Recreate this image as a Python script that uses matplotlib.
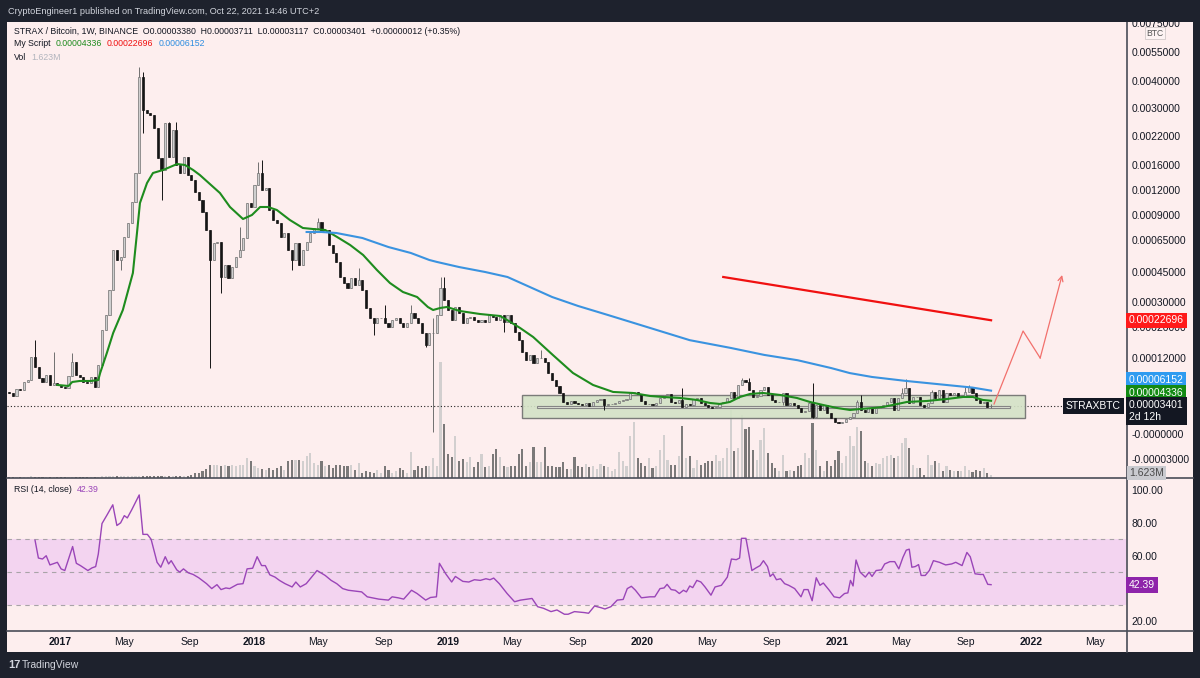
import numpy as np
import pandas as pd
import matplotlib
matplotlib.use("Agg")
import matplotlib.pyplot as plt
import matplotlib.dates as mdates
from matplotlib.patches import Rectangle
from matplotlib.lines import Line2D

plt.rcParams['font.family'] = ['Liberation Sans', 'DejaVu Sans']

# ---- data (prices in satoshi, 1e-8 BTC) ----
first_week = "2016-09-26"
closes = [5735, 5198, 6451, 6272, 7704, 8062, 12258, 10389, 8420, 7704,
          8957, 7167, 7525, 7167, 6809, 6630, 8778, 11284, 8957, 8599,
          7704, 7525, 8599, 6809, 10747, 19226, 24800, 36000, 58750, 52500,
          54375, 68000, 82000, 105600, 147200, 421000, 294300, 285700, 280000, 242900,
          174500, 152000, 257100, 176550, 237100, 160000, 147200, 176550, 144000, 136000,
          117600, 108000, 93600, 75000, 52500, 63125, 63750, 42500, 49375, 42000,
          48125, 54375, 58750, 67000, 104400, 99600, 128000, 147200, 120000, 123200,
          96000, 85000, 82000, 68000, 72000, 58750, 52500, 63125, 49375, 58750,
          63750, 72000, 77000, 83000, 73000, 75000, 61875, 56875, 51250, 42500,
          39500, 37000, 42000, 38500, 41000, 36000, 27600, 23600, 21600, 23600,
          23600, 21600, 20000, 22800, 23600, 21600, 20000, 21600, 25600, 23600,
          21600, 18452, 15356, 18452, 18452, 24800, 37000, 31000, 26800, 22800,
          28000, 25600, 21600, 23600, 24000, 22800, 22000, 22800, 22000, 24800,
          24000, 22800, 24800, 22000, 24800, 21600, 18710, 16646, 13550, 11642,
          12774, 11105, 12000, 12000, 11284, 9315, 8062, 6988, 5735, 4124,
          3766, 4303, 3945, 3766, 3587, 3945, 3401, 4124, 4482, 4661,
          3587, 3766, 3766, 3945, 4303, 4482, 4661, 5735, 5914, 5556,
          4303, 3766, 3766, 3587, 3945, 4840, 5377, 5556, 4124, 3945,
          4482, 3280, 3766, 3587, 4661, 4840, 3945, 3587, 3280, 3158,
          3280, 3945, 4124, 4840, 5914, 4840, 7167, 8062, 7704, 6272,
          5019, 5198, 6272, 6809, 5377, 4482, 4124, 4124, 5735, 3587,
          3945, 3587, 3158, 2672, 2794, 3945, 2066, 3587, 2915, 3587,
          2551, 1944, 1458, 1337, 1458, 1823, 2066, 2551, 4124, 2915,
          2672, 3158, 2551, 3158, 3280, 3587, 4124, 4840, 2915, 4840,
          5735, 6630, 3945, 5019, 5019, 3587, 3280, 3945, 5914, 4840,
          6272, 4124, 5735, 5377, 5735, 5019, 5198, 5914, 6809, 5735,
          4482, 3945, 4124, 3280, 3401]
first_open = 5900
last_open = 3380
high_wicks = {7: 16646, 12: 13550, 17: 13292, 35: 472000, 36: 446000, 43: 260000,
              45: 260000, 62: 78000, 67: 166200, 68: 170300, 83: 87000, 94: 47500,
              101: 28800, 108: 28800, 114: 23600, 116: 42500, 117: 42500, 143: 14066,
              181: 6630, 197: 8420, 199: 8420, 216: 7525, 228: 4482, 229: 5377,
              240: 6630, 241: 8241, 248: 6272, 257: 6809, 258: 7167, 264: 3711}
low_wicks = {30: 46250, 36: 228600, 41: 108000, 54: 10210, 57: 34500, 76: 46250,
             98: 17936, 112: 14840, 114: 243, 133: 18710, 160: 2915, 208: 3587,
             216: 1944, 264: 3117}

# volume in millions
volume = [0.6, 0.5, 0.6, 0.5, 0.6, 0.6, 0.8, 0.7, 0.6, 0.5,
          0.6, 0.5, 0.6, 0.5, 0.5, 0.5, 0.6, 0.7, 0.6, 0.5,
          0.5, 0.5, 0.6, 0.5, 0.6, 0.8, 0.8, 0.9, 1.0, 0.9,
          0.8, 0.9, 0.9, 1.0, 1.0, 1.2, 1.1, 1.0, 0.9, 0.9,
          0.8, 0.8, 0.9, 0.8, 0.8, 0.8, 0.8, 0.9, 1.0,
          1.5, 2.5, 2.5, 3.5, 4.5, 6.5, 6.5, 6.5, 6, 6.5,
          6, 6.5, 6, 6.5, 6.5, 10, 8.5, 6, 5, 4.5,
          4, 5, 4, 5, 6, 4, 8.5, 9, 9, 9,
          8.5, 11, 12.5, 7.5, 6.5, 8.5, 6, 6.5, 5, 6.5,
          6.5, 6, 6, 6.5, 4, 7.5, 2.5, 3.5, 3, 2.5,
          4, 2.5, 6, 4, 2.5, 3.5, 5, 4, 2.5, 13,
          4, 6, 5, 6, 6, 10, 6, 58, 27, 12,
          10.5, 21, 8.5, 9.5, 8, 10.5, 5.5, 8, 12, 5.5,
          6, 12, 14.5, 10.5, 6, 5.5, 6, 6, 12, 14.5,
          6, 8, 15.5, 8, 8, 15.5, 6, 6, 5.5, 5.5,
          8, 4.5, 4.5, 10.5, 6, 5.5, 7, 5.5, 6, 4.5,
          7, 6, 5.5, 3.5, 4.5, 13, 8.5, 6, 21, 28,
          10, 7.5, 6, 10, 5, 6, 14, 21.5, 9, 6.5,
          6.5, 11, 26, 10, 11, 5, 9, 6.5, 7.5, 8.5,
          8.5, 11.5, 8.5, 10, 15, 34, 13.5, 15, 31.5, 24.5,
          25.5, 14, 9, 19, 25, 12.5, 7.5, 5, 3.5, 11.5,
          3.5, 4, 3.5, 6, 6.5, 12.5, 10, 27.5, 14, 6,
          3.5, 8.5, 6, 9, 13.5, 7.5, 11, 21, 16, 25.5,
          23.5, 8.5, 7.5, 6, 7.5, 7, 10, 11, 11.5, 10,
          11, 17.5, 20, 15, 6.5, 5, 5, 1.5, 11.5, 6.5,
          8.5, 7.5, 3.5, 6, 4, 3.5, 3.5, 3.5, 6, 4,
          3, 4, 3.5, 5, 2.5, 1.623]

# "My Script" lines (week index, satoshi)
green_idx = [13, 16, 17, 19, 22, 24, 24.5, 26.3, 28, 30.6, 33.3, 34.4, 35.2, 37.1, 38.7,
             41.4, 43.3, 45.2, 47.3, 49.5, 51.3, 54, 56.7, 59.4, 62.9, 65.3, 67.5, 69.6,
             72, 75.5, 79, 81.7, 85, 88.2, 91.7, 95.2, 98.9, 102.4, 105.9, 109.7, 112.6,
             114, 115.9, 117.7, 121.2, 126.6, 132, 133.9, 137.4, 140.9, 146.2, 151.6, 157,
             162.4, 167.7, 172.3, 175.8, 180.4, 184.9, 188.4, 191.1, 193.8, 196.5, 199.2,
             202.7, 207.3, 211.8, 215.3, 218.8, 222.6, 226.1, 228.8, 232.3, 234.9, 237.6,
             241.4, 246.8, 252.2, 256.5, 259.1, 261.8, 264]
green_val = [7167, 6988, 7704, 7883, 7883, 8062, 9315, 13292, 18452, 26800, 44500, 72000,
             104400, 131200, 147200, 152000, 156800, 162070, 160000, 152000, 144000, 129600,
             116400, 99600, 86000, 90000, 99600, 99600, 96000, 85000, 77000, 76000, 75000,
             68000, 61875, 55625, 46250, 39500, 35000, 32500, 28000, 26800, 27600, 28000,
             26400, 25200, 24400, 22800, 19742, 17420, 12774, 9315, 7167, 5914, 5735, 5198,
             5019, 4840, 4482, 3945, 3766, 4124, 5019, 5556, 5735, 5377, 4840, 4124, 3587,
             3158, 2915, 3037, 3158, 3280, 3587, 4124, 4303, 4661, 5019, 5019, 4482, 4336]
blue_idx = [80, 84, 88, 95, 102, 108, 113, 115, 121, 128, 134, 140, 146, 153, 161, 168,
            183, 194, 203, 212, 221, 226, 232, 241, 250, 259, 264]
blue_val = [73000, 73000, 72000, 67000, 60600, 56900, 52500, 51300, 48100, 45000, 42500,
            37500, 32500, 28400, 24800, 21600, 16600, 14600, 12800, 11600, 10200, 9300,
            8600, 7900, 7300, 6700, 6152]
red_idx = [192, 264]
red_val = [42500, 22696]

# drawings
box_idx = [138, 273]
box_val = [1944, 5377]
inner_idx = [142, 269]
inner_val = [3098, 3461]
proj_idx = [264.8, 272.6, 277.2, 283.1]
proj_val = [3766, 18968, 12000, 43500]

# RSI (14, close)
rsi_idx = [7, 7.9, 9, 10, 11, 13, 14, 15, 17.1, 18.1, 19.2, 21.2, 22.3, 23.3, 24, 25,
           26.4, 27.9, 29, 30, 31, 31.8, 33, 35, 36, 37.2, 38.2, 39.8, 40.8, 42, 42.9,
           43.6, 45.1, 45.9, 46.9, 48.2, 49.5, 51, 53.1, 54.5, 55.9, 57, 58.3, 59.3,
           61.4, 62.9, 64, 65.5, 66.7, 67.9, 68.9, 70.1, 71.5, 72.7, 74.2, 76.1, 77.1,
           78.3, 79.9, 82.8, 85, 86.6, 88.1, 89.7, 91.2, 94.8, 96.3, 99.4, 102, 103,
           104.6, 106.1, 108.2, 109.7, 112, 113.3, 114.9, 115.7, 117.4, 119, 120, 122,
           123.6, 125.1, 126.7, 128.2, 129.3, 130.3, 131.8, 133.9, 135.9, 137.5, 140.6,
           142.1, 143.7, 145.7, 147.3, 149.3, 150.3, 152, 154.7, 155.8, 157.4, 159.1,
           160.2, 161.8, 163.5, 165.1, 166.2, 167.3, 168.4, 170, 172.3, 173.6, 175,
           176.1, 176.9, 178, 179.1, 180.2, 181.3, 182.1, 183, 183.8, 184.9, 186, 187.1,
           188.7, 189.8, 191.5, 193.1, 194.2, 195.5, 196.4, 196.9, 198.1, 199.7, 200.8,
           201.9, 202.8, 203.9, 204.6, 205.4, 206.3, 207.4, 208.5, 209.6, 211.2, 212.9,
           213.7, 214.8, 215.9, 217, 218, 218.9, 220.5, 221.8, 223.3, 224.6, 225.5,
           226.2, 226.9, 227.7, 228.8, 230.2, 231.2, 232, 233.1, 234.5, 235.4, 236.8,
           238.1, 239.2, 240.3, 241.2, 242, 242.7, 243.6, 244.5, 245.2, 246.3, 247.4,
           248.5, 250.1, 251.8, 253.4, 254.5, 256.2, 257.5, 258.4, 259.7, 261.1, 261.9,
           263.1, 264]
rsi_val = [69.4, 58.6, 58, 60, 54.4, 56, 52, 51, 65.6, 55.4, 54, 51, 52.6, 53.4, 61, 79.6,
           85, 91, 78.4, 80, 84.4, 83, 88, 97, 73, 73, 70, 56, 53, 59.4, 55,
           57, 51.4, 50, 52, 49.6, 48.6, 46.6, 43, 40, 42.4, 39.4, 40.4, 40,
           42.6, 43, 52, 52.4, 59.4, 54, 54, 48.4, 47, 45, 43, 41, 44,
           41, 43, 51, 48, 45, 43, 40, 39, 38, 35, 33.6, 33, 35,
           34.4, 33.6, 39, 37, 33, 34.6, 35, 55.4, 49, 44, 47.4, 44.4,
           44, 45.4, 45, 46, 45.4, 46.4, 43, 37, 32, 33, 34,
           29, 28, 26, 27, 24.4, 24.4, 26, 25.4, 25, 29.4, 28.4,
           27.6, 29, 33, 33.4, 40, 41.4, 39, 34.4, 35, 35, 40,
           40.4, 42.6, 39.4, 39, 37, 39, 38, 41.6, 40.6, 45, 44, 41,
           36, 41, 42, 47, 58, 57.6, 58.6, 70.6, 70.6, 51, 52.6,
           54, 57, 53.4, 47.4, 49, 45.4, 46, 43, 42, 40, 35,
           39.4, 39.4, 32.6, 46.6, 42, 43.4, 39, 35, 34.4, 37, 37.4,
           45, 41.6, 57.4, 50, 47, 50, 47.4, 51, 51.4, 55, 56.4,
           56.4, 52, 59, 63.4, 64, 53, 53.4, 54.6, 48, 48, 51,
           57, 56, 54.4, 55, 56, 54, 62, 59.4, 49, 48.6, 48.6,
           42.6, 42.39]

month_ticks = ["2017-01-01", "2017-05-01", "2017-09-01", "2018-01-01", "2018-05-01",
               "2018-09-01", "2019-01-01", "2019-05-01", "2019-09-01", "2020-01-01",
               "2020-05-01", "2020-09-01", "2021-01-01", "2021-05-01", "2021-09-01",
               "2022-01-01", "2022-05-01"]
month_labels = ["2017", "May", "Sep", "2018", "May", "Sep", "2019", "May", "Sep",
                "2020", "May", "Sep", "2021", "May", "Sep", "2022", "May"]

price_ticks = [0.0075, 0.0055, 0.004, 0.003, 0.0022, 0.0016, 0.0012, 0.0009, 0.00065,
               0.00045, 0.0003, 0.0002, 0.00012, 0.0, -0.00003]
price_tick_labels = ["0.0075000", "0.0055000", "0.0040000", "0.0030000", "0.0022000",
                     "0.0016000", "0.0012000", "0.0009000", "0.00065000", "0.00045000",
                     "0.00030000", "0.00020000", "0.00012000", "-0.0000000", "-0.00003000"]
rsi_ticks = [100, 80, 60, 20]   # 40.00 sits under the value label

# ---- layout helpers ----
W, H = 1200, 678
BG = '#1e222d'
PANEL = '#fdeeee'
DARK = '#131722'
SEP = '#4a4d57'


def rect(x0, y0, x1, y1):
    return [x0 / W, 1 - y1 / H, (x1 - x0) / W, (y1 - y0) / H]


fig = plt.figure(figsize=(12, 6.78), dpi=100, facecolor=BG)
renderer = fig.canvas.get_renderer()


def ftxt(x, y, s, **kw):
    kw.setdefault('va', 'center')
    kw.setdefault('fontsize', 7.5)
    kw.setdefault('color', DARK)
    return fig.text(x / W, 1 - y / H, s, **kw)


def chain(x, y, pieces, gap=5, **kw):
    # write pieces one after another on a row
    for s, col in pieces:
        t = ftxt(x, y, s, color=col, **kw)
        x = t.get_window_extent(renderer).x1 + gap


def fline(x0, y0, x1, y1, **kw):
    fig.add_artist(Line2D([x0 / W, x1 / W], [1 - y0 / H, 1 - y1 / H], **kw))


fig.add_artist(Rectangle((7 / W, 1 - 652 / H), 1186 / W, 630 / H, transform=fig.transFigure,
                         facecolor=PANEL, edgecolor='none', zorder=-5))

# price axis scale calibrated on the right-hand labels
scale_vals = np.array([-0.001, -0.00003, 0, 0.000034, 0.00012, 0.0002, 0.0003, 0.00045,
                       0.00065, 0.0009, 0.0012, 0.0016, 0.0022, 0.003, 0.004, 0.0055,
                       0.0075, 0.05])
scale_pix = np.array([1267, 459, 434, 406, 358, 327, 302, 272, 240, 215, 190, 165, 136,
                      108, 81, 52, 23, -593])


def fwd(v):
    return np.interp(v, scale_vals, -scale_pix)


def inv(q):
    return np.interp(q, -scale_pix, scale_vals)


ax_vol = fig.add_axes(rect(7, 22, 1126, 478), facecolor=PANEL, zorder=1)
ax = fig.add_axes(rect(7, 22, 1126, 478), sharex=ax_vol, zorder=2)
ax.patch.set_visible(False)
ax_rsi = fig.add_axes(rect(7, 478, 1126, 631), sharex=ax_vol, facecolor=PANEL, zorder=1)

ax.set_yscale('function', functions=(fwd, inv))

# ---- candles ----
n = len(closes)
t0 = mdates.date2num(pd.Timestamp(first_week))


def ix(i):
    return t0 + 7 * np.asarray(i, dtype=float)


xs = ix(np.arange(n))
c = np.array(closes, dtype=float)
o = np.r_[first_open, c[:-1]]
o[-1] = last_open
hi = np.maximum(o, c)
lo = np.minimum(o, c)
for k, v in high_wicks.items():
    hi[k] = v
for k, v in low_wicks.items():
    lo[k] = v
up = c >= o
sat = 1e-8

edge = np.where(up, '#707070', '#151515')
fill = np.where(up, '#cfcfcf', '#151515')
ax.vlines(xs, lo * sat, hi * sat, colors=edge, linewidth=0.7, zorder=4)
ax.bar(xs, np.abs(c - o) * sat, bottom=np.minimum(o, c) * sat, width=4.0,
       color=fill, edgecolor=edge, linewidth=0.5, zorder=5)

# volume
vol_col = np.where(up, '#d2cfcf', '#7b7979')
ax_vol.bar(xs, volume, width=4.0, color=vol_col, linewidth=0)
ax_vol.set_ylim(0, 228)
ax_vol.set_yticks([])
ax_vol.tick_params(axis='x', bottom=False, labelbottom=False)
for s in ax_vol.spines.values():
    s.set_visible(False)

# drawings: consolidation box
ax.add_patch(Rectangle((ix(box_idx[0]), box_val[0] * sat), ix(box_idx[1]) - ix(box_idx[0]),
                       (box_val[1] - box_val[0]) * sat, facecolor='#d3e2c6', alpha=0.9,
                       edgecolor='#6f6f6f', linewidth=1, zorder=3))
ax.add_patch(Rectangle((ix(inner_idx[0]), inner_val[0] * sat),
                       ix(inner_idx[1]) - ix(inner_idx[0]),
                       (inner_val[1] - inner_val[0]) * sat, facecolor='#dfe3d6',
                       edgecolor='#858585', linewidth=0.8, zorder=3))

# indicator lines
ax.plot(ix(green_idx), np.array(green_val) * sat, color='#1e8c1e', lw=1.5, zorder=6)
ax.plot(ix(blue_idx), np.array(blue_val) * sat, color='#3a93e0', lw=1.5, zorder=6)
ax.plot(ix(red_idx), np.array(red_val) * sat, color='#f01010', lw=1.6, zorder=6)

# projection arrow
ax.plot(ix(proj_idx[:-1]), np.array(proj_val[:-1]) * sat, color='#f2706c', lw=0.9, zorder=6)
ax.annotate('', xy=(ix(proj_idx[-1]), proj_val[-1] * sat),
            xytext=(ix(proj_idx[-2]), proj_val[-2] * sat),
            arrowprops=dict(arrowstyle='->', color='#f2706c', lw=0.9,
                            shrinkA=0, shrinkB=0, mutation_scale=9), zorder=6)

# last price dotted line
ax.axhline(c[-1] * sat, xmin=0, xmax=(1075 - 7) / 1119, color='#222222', lw=0.8,
           linestyle=(0, (1, 2)), zorder=2)

ax.set_ylim(inv(-478), inv(-22))
ax.set_xlim(ix(-0.54), ix(300.27))
ax.yaxis.tick_right()
ax.set_yticks(price_ticks, price_tick_labels)
ax.tick_params(axis='y', length=0, pad=4, labelsize=7.5, colors=DARK)
ax.tick_params(axis='x', bottom=False, labelbottom=False)
for s in ax.spines.values():
    s.set_visible(False)

# ---- RSI ----
ax_rsi.axhspan(30, 70, color='#f3d4f0', lw=0, zorder=1)
for lvl in (70, 50, 30):
    ax_rsi.axhline(lvl, color='#a9a3a8', lw=0.8, linestyle=(0, (4, 4)), zorder=2)
ax_rsi.plot(ix(rsi_idx), rsi_val, color='#9a45b8', lw=1.0, zorder=3)
ax_rsi.set_ylim(14.2, 107.3)
ax_rsi.yaxis.tick_right()
ax_rsi.set_yticks(rsi_ticks, ["%.2f" % v for v in rsi_ticks])
ax_rsi.tick_params(axis='y', length=0, pad=4, labelsize=7.5, colors=DARK)
ax_rsi.set_xticks(mdates.date2num(pd.to_datetime(month_ticks)), month_labels)
ax_rsi.tick_params(axis='x', length=0, pad=4, labelsize=7.5, colors=DARK)
for lab in ax_rsi.get_xticklabels():
    if lab.get_text().isdigit():
        lab.set_fontweight('bold')
for s in ax_rsi.spines.values():
    s.set_visible(False)

# separators
fline(7, 478, 1193, 478, color=SEP, lw=1.2)
fline(7, 631, 1193, 631, color=SEP, lw=1.2)
fline(1126.5, 22, 1126.5, 652, color=SEP, lw=1.2)

# ---- header bar (drawn over the top of the chart) ----
fig.add_artist(Rectangle((0, 1 - 22 / H), 1, 22 / H, transform=fig.transFigure,
                         facecolor=BG, edgecolor='none', zorder=10))
ftxt(8, 11, "CryptoEngineer1 published on TradingView.com, Oct 22, 2021 14:46 UTC+2",
     color='#d1d4dc', fontsize=6.6, zorder=11)

# legend rows in the price pane
lf = 6.3
ftxt(14, 32, "STRAX / Bitcoin, 1W, BINANCE  O0.00003380  H0.00003711  L0.00003117  "
     "C0.00003401  +0.00000012 (+0.35%)", fontsize=lf)
chain(14, 44, [("My Script", DARK), ("0.00004336", '#1e8c1e'),
               ("0.00022696", '#f01010'), ("0.00006152", '#2e8de0')], fontsize=lf)
chain(14, 57, [("Vol", DARK), ("1.623M", '#b2b5be')], fontsize=lf)
chain(14, 490, [("RSI (14, close)", DARK), ("42.39", '#9a45b8')], fontsize=lf)

# price scale labels
ftxt(1155, 33, "BTC", fontsize=6.2, ha='center', color='#555555',
     bbox=dict(boxstyle='square,pad=0.2', fc='#fdf3f3', ec='#d0c8c8', lw=0.6), zorder=12)
y_red = -fwd(red_val[-1] * sat)
ftxt(1129, y_red, "0.00022696", color='white',
     bbox=dict(boxstyle='square,pad=0.25', fc='#ff1a1a', ec='none'))
y_last = -fwd(c[-1] * sat)
ftxt(1129, y_last - 26, "0.00006152", color='white',
     bbox=dict(boxstyle='square,pad=0.25', fc='#2f9bf0', ec='none'))
ftxt(1129, y_last - 13, "0.00004336", color='white',
     bbox=dict(boxstyle='square,pad=0.25', fc='#138a13', ec='none'))
ftxt(1129, y_last + 5, "0.00003401\n2d 12h", color='white', linespacing=1.15,
     bbox=dict(boxstyle='square,pad=0.3', fc=DARK, ec='none'))
ftxt(1121, y_last, "STRAXBTC", color='white', ha='right',
     bbox=dict(boxstyle='square,pad=0.25', fc=DARK, ec='none'))
ftxt(1129, 473, "1.623M", color='#4a4a4a',
     bbox=dict(boxstyle='square,pad=0.2', fc='#c9cacf', ec='none'))
ftxt(1129, 585, "42.39", color='white',
     bbox=dict(boxstyle='square,pad=0.25', fc='#8e24aa', ec='none'))

# footer
chain(8, 665, [("17", '#d1d4dc')], gap=2, fontsize=8, fontweight='bold')
ftxt(22, 665, "TradingView", color='#d1d4dc', fontsize=7.5)

fig.savefig("out.png", dpi=100, facecolor=BG)
